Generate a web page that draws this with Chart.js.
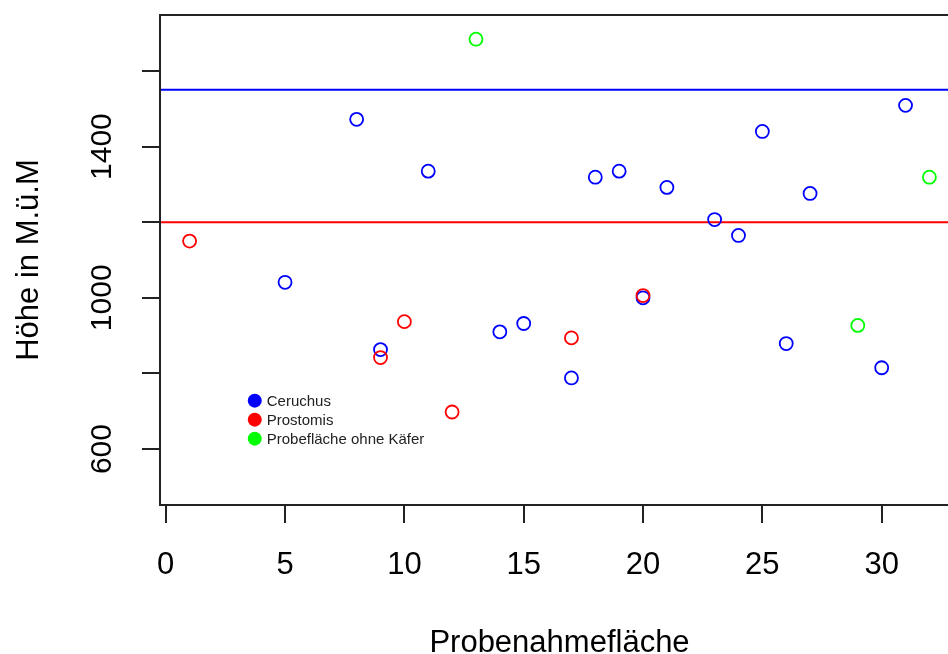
<!DOCTYPE html>
<html>
<head>
<meta charset="utf-8">
<script src="https://cdn.jsdelivr.net/npm/chart.js@4"></script>
<style>
html, body { margin:0; padding:0; background:#fff; overflow:hidden; }
</style>
</head>
<body>
<canvas id="chart" width="990" height="690"></canvas>
<script>
// data
const ceruchusX = [5, 8, 9, 11, 14, 15, 17, 18, 19, 20, 21, 23, 24, 25, 26, 27, 30, 31];
const ceruchusY = [1041, 1472, 863, 1335, 910, 932, 788, 1319, 1335, 1000, 1292, 1207, 1165, 1440, 879, 1276, 815, 1509];
const prostomisX = [1, 9, 10, 12, 17, 20];
const prostomisY = [1150, 842, 937, 698, 894, 1006];
const ohneX = [13, 29, 32];
const ohneY = [1684, 927, 1319];
const refLineY = [1550, 1200];   // blue, red

const xTicks = [0, 5, 10, 15, 20, 25, 30];
const yTicks = [600, 800, 1000, 1200, 1400, 1600];
const yLabelled = [600, 1000, 1400];

const legendNames = ["Ceruchus", "Prostomis", "Probefläche ohne Käfer"];
const legendColors = ["#0000ff", "#ff0000", "#00ff00"];

const fam = "'Liberation Sans', Arial, sans-serif";

function pts(xs, ys){
    return xs.map((x, i) => ({x: x, y: ys[i]}));
}

function scatterSet(label, xs, ys, color, order){
    return {
        label: label,
        data: pts(xs, ys),
        pointRadius: 6.5,
        pointHoverRadius: 6.5,
        pointBorderWidth: 1.8,
        pointBorderColor: color,
        pointBackgroundColor: "rgba(0,0,0,0)",
        borderColor: color,
        order: order
    };
}

function hLine(y, color){
    return {
        type: "line",
        label: "line",
        data: [{x: -5, y: y}, {x: 40, y: y}],
        borderColor: color,
        borderWidth: 2,
        pointRadius: 0,
        showLine: true,
        order: 5
    };
}

// box around the plot region
const boxPlugin = {
    id: "box",
    afterDatasetsDraw(chart){
        const a = chart.chartArea, c = chart.ctx;
        c.save();
        c.strokeStyle = "#222";
        c.lineWidth = 2;
        c.strokeRect(a.left, a.top, a.right - a.left, a.bottom - a.top);
        c.restore();
    }
};

// R style legend placed inside the plot
const legendPlugin = {
    id: "rlegend",
    afterDraw(chart){
        const c = chart.ctx;
        const x0 = chart.scales.x.getPixelForValue(3.73);
        const y0 = chart.scales.y.getPixelForValue(728);
        c.save();
        c.font = "15px " + fam;
        c.textBaseline = "middle";
        c.textAlign = "left";
        legendNames.forEach((name, i) => {
            const y = y0 + i * 19;
            c.fillStyle = legendColors[i];
            c.beginPath();
            c.arc(x0, y, 7, 0, Math.PI * 2);
            c.fill();
            c.fillStyle = "#222";
            c.fillText(name, x0 + 12, y + 1);
        });
        c.restore();
    }
};

function noPad(s){
    s.paddingTop = 0; s.paddingBottom = 0; s.paddingLeft = 0; s.paddingRight = 0;
}

const ctx = document.getElementById("chart").getContext("2d");

new Chart(ctx, {
    type: "scatter",
    data: {
        datasets: [
            scatterSet("Ceruchus", ceruchusX, ceruchusY, "#0000ff", 3),
            scatterSet("Prostomis", prostomisX, prostomisY, "#ff0000", 2),
            scatterSet("Probefläche ohne Käfer", ohneX, ohneY, "#00ff00", 1),
            hLine(refLineY[0], "#0000ff"),
            hLine(refLineY[1], "#ff0000")
        ]
    },
    options: {
        responsive: false,
        animation: false,
        devicePixelRatio: 1,
        layout: { padding: { left: 0, top: 15, right: 31, bottom: 0 } },
        plugins: { legend: { display: false }, tooltip: { enabled: false } },
        scales: {
            x: {
                type: "linear",
                min: -0.24,
                max: 33.24,
                afterBuildTicks: s => { s.ticks = xTicks.map(v => ({value: v})); },
                afterFit: s => { s.height = 185; noPad(s); },
                grid: { drawOnChartArea: false, drawTicks: true, tickLength: 18, color: "#222", lineWidth: 2 },
                border: { display: false },
                ticks: { color: "#000", font: { family: fam, size: 31 }, padding: 24, maxRotation: 0, autoSkip: false },
                title: { display: true, text: "Probenahmefläche", color: "#000",
                         font: { family: fam, size: 31 }, padding: { top: 0, bottom: 28 } }
            },
            y: {
                type: "linear",
                min: 452,
                max: 1748,
                afterBuildTicks: s => { s.ticks = yTicks.map(v => ({value: v})); },
                afterFit: s => { s.width = 160; noPad(s); },
                grid: { drawOnChartArea: false, drawTicks: true, tickLength: 18, color: "#222", lineWidth: 2 },
                border: { display: false },
                ticks: {
                    color: "#000", font: { family: fam, size: 30 },
                    callback: v => yLabelled.includes(v) ? String(v) : "",
                    minRotation: 90, maxRotation: 90, crossAlign: "center", padding: 6, autoSkip: false
                },
                title: { display: true, text: "Höhe in M.ü.M", color: "#000",
                         font: { family: fam, size: 31 }, padding: { top: 11, bottom: 0 } }
            }
        }
    },
    plugins: [boxPlugin, legendPlugin]
});
</script>
</body>
</html>
